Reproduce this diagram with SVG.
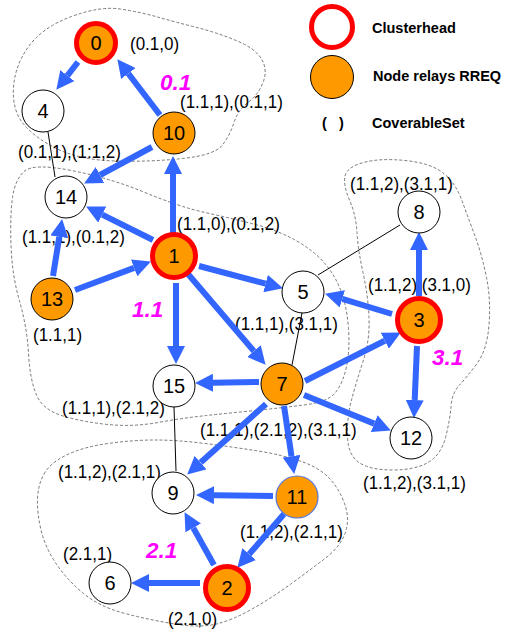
<svg xmlns="http://www.w3.org/2000/svg" width="507" height="632" viewBox="0 0 507 632">
<style>
.cl{fill:none;stroke:#555;stroke-width:0.8;stroke-dasharray:3,2}
.e{stroke:#3366ff;stroke-width:6;fill:none;marker-end:url(#ah)}
.t{stroke:#000;stroke-width:1;fill:none}
.w{fill:#fff;stroke:#000;stroke-width:1}
.o{fill:#ff9900;stroke:#000;stroke-width:1}
.ch{fill:#ff9900;stroke:#ff0000;stroke-width:5}
.nl{font-family:"Liberation Sans",Arial,sans-serif;font-size:20px;fill:#000;text-anchor:middle}
.cs{font-family:"Liberation Sans",Arial,sans-serif;font-size:17px;fill:#000;transform-box:fill-box;transform-origin:0 85%;transform:scaleY(1.12)}
.mg{font-family:"Liberation Sans",Arial,sans-serif;font-size:22.5px;font-weight:bold;font-style:italic;fill:#ff00ff}
.lg{font-family:"Liberation Sans",Arial,sans-serif;font-size:14.5px;font-weight:bold;fill:#000}
</style>
<defs>
<marker id="ah" viewBox="0 0 10 10" refX="0" refY="5" markerWidth="3" markerHeight="3" orient="auto">
<path d="M0,0 L10,5 L0,10 z" fill="#3366ff"/>
</marker>
</defs>
<g id="clusters">
<path class="cl" d="M29,46 Q43,27 71.5,16.5 Q100,6 120,9 Q140,12 157.5,17 Q175,22 195,27 Q215,32 235,40 Q255,48 261.5,59 Q268,70 263,82.5 Q258,95 248,102.5 Q238,110 234,122.5 Q230,135 222.5,145 Q215,155 182.5,158.5 Q150,162 115,161 Q80,160 57.5,149 Q35,138 23.5,124 Q12,110 13.5,87.5 Q15,65 29,46 Z"/>
<path class="cl" d="M24,171.5 Q33,163 71.5,170.5 Q110,178 145,192.5 Q180,207 205,212.5 Q230,218 253.5,224 Q277,230 295,240 Q313,250 324,262.5 Q335,275 341,291 Q347,307 348.5,328.5 Q350,350 346.5,366.5 Q343,383 335.5,392.5 Q328,402 304,405 Q280,408 255,410.5 Q230,413 206.5,415.5 Q183,418 158,422.5 Q133,427 108,424.5 Q83,422 63,416 Q43,410 36.5,395 Q30,380 28.5,353.5 Q27,327 19.5,301 Q12,275 11,245 Q10,215 12.5,197.5 Q15,180 24,171.5 Z"/>
<path class="cl" d="M345,176 Q347,167 363.5,162.5 Q380,158 405,160.5 Q430,163 442.5,172.5 Q455,182 461.5,199.5 Q468,217 475,236 Q482,255 486.5,277.5 Q491,300 489,325 Q487,350 477,363.5 Q467,377 459.5,385 Q452,393 451,406.5 Q450,420 445.5,437.5 Q441,455 428,462.5 Q415,470 392.5,470 Q370,470 359,462.5 Q348,455 347.5,436 Q347,417 351.5,400 Q356,383 363,361.5 Q370,340 369,317.5 Q368,295 363,272.5 Q358,250 357,232.5 Q356,215 349.5,200 Q343,185 345,176 Z"/>
<path class="cl" d="M44,474 Q50,463 66.5,455 Q83,447 108,443.5 Q133,440 155,440 Q177,440 205,443.5 Q233,447 258,451 Q283,455 301.5,461.5 Q320,468 330,479 Q340,490 345,505 Q350,520 345,533.5 Q340,547 325,558.5 Q310,570 291.5,583.5 Q273,597 253,608.5 Q233,620 216.5,624 Q200,628 175,624 Q150,620 125,613.5 Q100,607 83.5,593.5 Q67,580 56,563.5 Q45,547 41,530 Q37,513 37.5,499 Q38,485 44,474 Z"/>
</g>
<g id="labels">
<text class="cs" x="130" y="50">(0.1,0)</text>
<text class="cs" x="180" y="108">(1.1,1),(0.1,1)</text>
<text class="cs" x="18" y="158">(0.1,1),(1:1,2)</text>
<text class="cs" x="22" y="243">(1.1,1),(0.1,2)</text>
<text class="cs" x="33" y="341">(1.1,1)</text>
<text class="cs" x="177" y="230">(1.1,0),(0.1,2)</text>
<text class="cs" x="235" y="330">(1.1,1),(3.1,1)</text>
<text class="cs" x="62" y="414">(1.1,1),(2.1,2)</text>
<text class="cs" x="200" y="436">(1.1,1),(2.1,2),(3.1,1)</text>
<text class="cs" x="363" y="489">(1.1,2),(3.1,1)</text>
<text class="cs" x="350" y="190">(1.1,2),(3.1,1)</text>
<text class="cs" x="368" y="291">(1.1,2),(3.1,0)</text>
<text class="cs" x="58" y="478">(1.1,2),(2.1,1)</text>
<text class="cs" x="240" y="538">(1.1,2),(2.1,1)</text>
<text class="cs" x="63" y="560">(2.1,1)</text>
<text class="cs" x="168" y="625">(2.1,0)</text>
<text class="mg" x="160" y="90">0.1</text>
<text class="mg" x="132" y="317">1.1</text>
<text class="mg" x="432" y="365">3.1</text>
<text class="mg" x="146" y="558">2.1</text>
</g>
<g id="connectors">
<line class="t" x1="48" y1="132" x2="55" y2="177"/>
<line class="t" x1="318" y1="275" x2="400" y2="225"/>
<line class="t" x1="302" y1="313" x2="292" y2="365"/>
<line class="t" x1="174" y1="407" x2="176" y2="471"/>
<line class="e" x1="78" y1="62" x2="67.4" y2="75.6"/>
<line class="e" x1="160" y1="115" x2="128.3" y2="73.5"/>
<line class="e" x1="152" y1="147" x2="100" y2="175"/>
<line class="e" x1="173" y1="233" x2="173" y2="174"/>
<line class="e" x1="153" y1="240" x2="102.2" y2="214.6"/>
<line class="e" x1="53" y1="276" x2="59.3" y2="236.8"/>
<line class="e" x1="75" y1="290" x2="134.1" y2="267.9"/>
<line class="e" x1="199" y1="266" x2="265.6" y2="283.6"/>
<line class="e" x1="176" y1="283" x2="176" y2="346"/>
<line class="e" x1="188" y1="274" x2="253.9" y2="351.1"/>
<line class="e" x1="392" y1="314" x2="342.3" y2="298.9"/>
<line class="e" x1="419" y1="296" x2="419" y2="250"/>
<line class="e" x1="417" y1="346" x2="414.7" y2="400"/>
<line class="e" x1="305" y1="381" x2="384.8" y2="340.7"/>
<line class="e" x1="259" y1="382" x2="213" y2="382.7"/>
<line class="e" x1="304" y1="395" x2="374.2" y2="423.6"/>
<line class="e" x1="266" y1="404" x2="200.6" y2="462.6"/>
<line class="e" x1="284" y1="406" x2="291.5" y2="456.2"/>
<line class="e" x1="273" y1="496" x2="214" y2="495.2"/>
<line class="e" x1="284" y1="514" x2="249.1" y2="554.2"/>
<line class="e" x1="214" y1="565" x2="193.3" y2="527.9"/>
<line class="e" x1="200" y1="583" x2="149" y2="583"/>
</g>
<g id="n0"><circle class="ch" cx="96" cy="43" r="19.5"/><text class="nl" x="96" y="50">0</text></g>
<g id="n4"><circle class="w" cx="43" cy="111" r="21"/><text class="nl" x="43" y="118">4</text></g>
<g id="n10"><circle class="o" cx="174" cy="133" r="21"/><text class="nl" x="174" y="140">10</text></g>
<g id="n14"><circle class="w" cx="66" cy="197" r="21"/><text class="nl" x="66" y="204">14</text></g>
<g id="n1"><circle class="ch" cx="174" cy="256" r="21.5"/><text class="nl" x="174" y="263">1</text></g>
<g id="n13"><circle class="o" cx="52" cy="299" r="21"/><text class="nl" x="52" y="306">13</text></g>
<g id="n5"><circle class="w" cx="303" cy="292" r="21"/><text class="nl" x="303" y="299">5</text></g>
<g id="n8"><circle class="w" cx="419" cy="212" r="21"/><text class="nl" x="419" y="219">8</text></g>
<g id="n3"><circle class="ch" cx="419" cy="320" r="21.5"/><text class="nl" x="419" y="327">3</text></g>
<g id="n15"><circle class="w" cx="174" cy="386" r="21"/><text class="nl" x="174" y="393">15</text></g>
<g id="n7"><circle class="o" cx="282" cy="384" r="21"/><text class="nl" x="282" y="391">7</text></g>
<g id="n12"><circle class="w" cx="411" cy="438" r="21"/><text class="nl" x="411" y="445">12</text></g>
<g id="n9"><circle class="w" cx="173" cy="493" r="21"/><text class="nl" x="173" y="500">9</text></g>
<g id="n11"><circle cx="297" cy="497" r="21" fill="#ff9900" stroke="#5577dd" stroke-width="1.2"/><text class="nl" x="297" y="504">11</text></g>
<g id="n6"><circle class="w" cx="110" cy="583" r="21"/><text class="nl" x="110" y="590">6</text></g>
<g id="n2"><circle class="ch" cx="227" cy="588" r="21.5"/><text class="nl" x="227" y="595">2</text></g>
<g id="legend">
<circle cx="332" cy="27" r="20.5" fill="#fff" stroke="#ff0000" stroke-width="5"/>
<text class="lg" x="372" y="33">Clusterhead</text>
<circle class="o" cx="332" cy="77" r="21.5"/>
<text class="lg" x="373" y="81">Node relays RREQ</text>
<text class="lg" x="322" y="128" font-size="16">(</text>
<text class="lg" x="339" y="128" font-size="16">)</text>
<text class="lg" x="372" y="128">CoverableSet</text>
</g>
</svg>
